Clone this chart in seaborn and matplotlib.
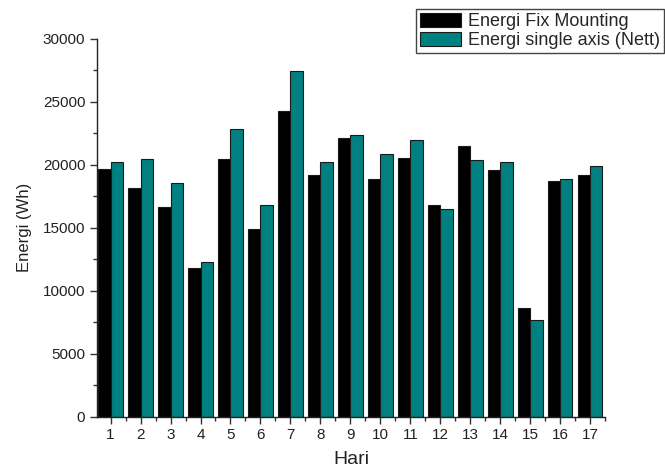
import numpy as np
import pandas as pd
import seaborn as sns
import matplotlib.pyplot as plt
from matplotlib.ticker import MultipleLocator, FixedLocator

# data
hari = list(range(1, 18))
fix_mounting = [19700, 18190, 16680, 11790, 20450, 14900, 24250, 19200, 22100,
                18850, 20520, 16790, 21510, 19600, 8660, 18680, 19200]
single_axis = [20240, 20500, 18590, 12250, 22840, 16840, 27450, 20240, 22340,
               20850, 21990, 16470, 20370, 20240, 7700, 18890, 19920]
seri = ["Energi Fix Mounting", "Energi single axis (Nett)"]

df = pd.DataFrame({
    "Hari": hari * 2,
    "Energi": fix_mounting + single_axis,
    "Seri": [seri[0]] * len(hari) + [seri[1]] * len(hari),
})

sns.set_theme(style="ticks")
plt.rcParams["font.family"] = ["Liberation Sans", "DejaVu Sans"]

fig = plt.figure(figsize=(6.65, 4.75), dpi=100)
ax = fig.add_axes([0.146, 0.123, 0.764, 0.795])

sns.barplot(data=df, x="Hari", y="Energi", hue="Seri", palette=["#000000", "#008080"],
            saturation=1, width=0.82, edgecolor="#1a1a1a", linewidth=0.8, ax=ax)

ax.set_ylim(0, 30000)
ax.set_xlim(-0.45, 16.5)
ax.yaxis.set_major_locator(MultipleLocator(5000))
ax.yaxis.set_minor_locator(MultipleLocator(2500))
ax.xaxis.set_minor_locator(FixedLocator(np.arange(0.5, 16.6, 1)))
ax.tick_params(which="major", direction="out", length=5, width=1, color="#333333",
               labelsize=11, labelcolor="#222222")
ax.tick_params(which="minor", direction="out", length=3, width=1, color="#333333")
for s in ["left", "bottom"]:
    ax.spines[s].set_color("#222222")
    ax.spines[s].set_linewidth(1)
sns.despine(ax=ax)

ax.set_xlabel("Hari", fontsize=14, color="#222222", labelpad=6)
ax.set_ylabel("Energi (Wh)", fontsize=12, color="#222222", labelpad=8)

ax.legend(loc="upper left", bbox_to_anchor=(416 / 665, 1 - 9 / 475),
          bbox_transform=fig.transFigure, frameon=True, fancybox=False,
          edgecolor="#444444", framealpha=1, fontsize=13, title=None,
          handlelength=2.3, handleheight=0.85, handletextpad=0.4,
          borderpad=0.2, labelspacing=0.1, borderaxespad=0)

plt.savefig("out.png", dpi=100)
